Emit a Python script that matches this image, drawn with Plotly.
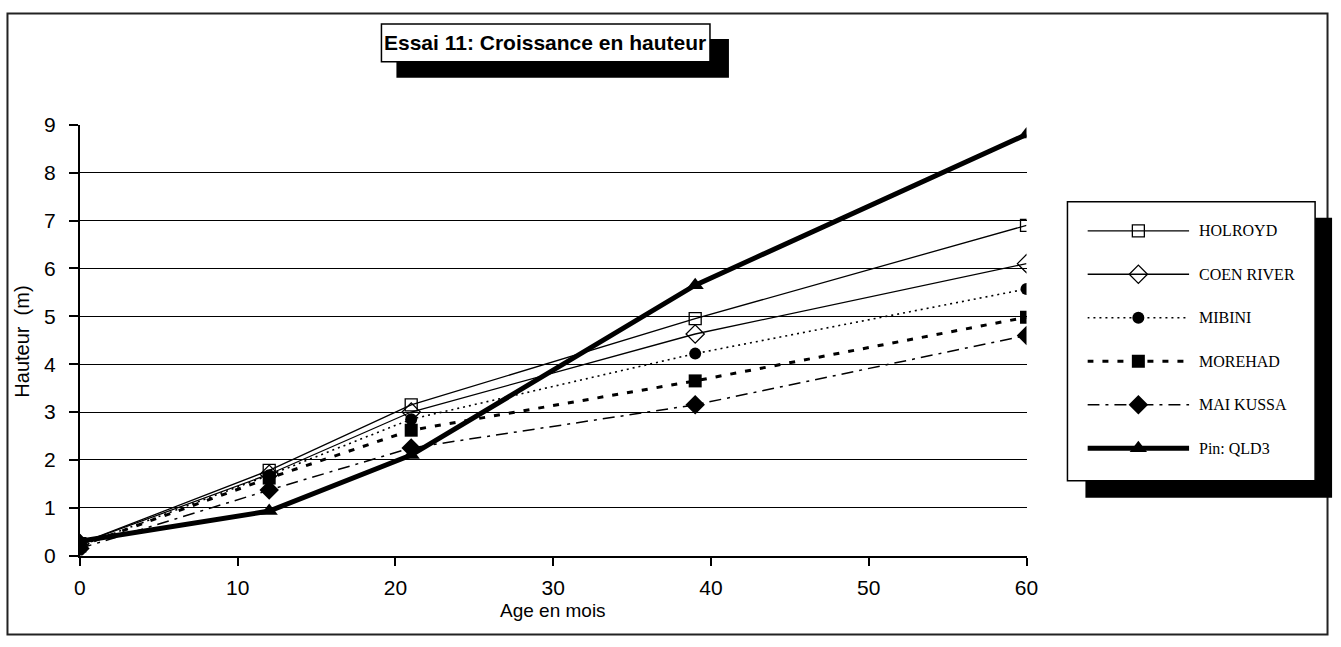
import plotly.graph_objects as go

# --- data -------------------------------------------------------------
months = [0, 12, 21, 39, 60]

holroyd = [0.25, 1.78, 3.15, 4.95, 6.9]
coen_river = [0.25, 1.7, 3.0, 4.63, 6.1]
mibini = [0.2, 1.68, 2.85, 4.22, 5.57]
morehad = [0.2, 1.62, 2.62, 3.65, 4.98]
mai_kussa = [0.15, 1.37, 2.25, 3.15, 4.6]
pin_qld3 = [0.3, 0.93, 2.1, 5.65, 8.8]

series_names = ["HOLROYD", "COEN RIVER", "MIBINI", "MOREHAD", "MAI KUSSA", "Pin: QLD3"]
series_values = [holroyd, coen_river, mibini, morehad, mai_kussa, pin_qld3]

x_ticks = [0, 10, 20, 30, 40, 50, 60]
y_ticks = [0, 1, 2, 3, 4, 5, 6, 7, 8, 9]

# --- styling per series ----------------------------------------------
styles = [
    dict(line=dict(color="black", width=1.3, dash="solid"),
         marker=dict(symbol="square-open", size=12, color="black", line=dict(width=1.3))),
    dict(line=dict(color="black", width=1.3, dash="solid"),
         marker=dict(symbol="diamond-open", size=14, color="black", line=dict(width=1.3))),
    dict(line=dict(color="black", width=1.6, dash="2px,4px"),
         marker=dict(symbol="circle", size=12, color="black")),
    dict(line=dict(color="black", width=3, dash="6px,9px"),
         marker=dict(symbol="square", size=13, color="black")),
    dict(line=dict(color="black", width=1.5, dash="12px,6px,3px,6px"),
         marker=dict(symbol="diamond", size=15, color="black")),
    dict(line=dict(color="black", width=5, dash="solid"),
         marker=dict(symbol="triangle-up", size=15, color="black")),
]

# --- page geometry -----------------------------------------------------
W, H = 1341, 647
# layout positions below are written in displayed pixels; these constants
# map them to figure pixels (horizontal / vertical scale and offset)
SX, OX = 0.988, 7.1
SY, OY = 0.965, 11.5


def px(s):
    return (s / SX - OX) / W


def py(s):
    return 1 - (s / SY - OY) / H


# plot area (displayed pixels)
X0, X1 = 81, 1029
Y_TOP, Y_BOT = 124, 555

fig = go.Figure()

for name, vals, st in zip(series_names, series_values, styles):
    fig.add_trace(go.Scatter(
        x=months, y=vals, name=name, mode="lines+markers",
        line=st["line"], marker=st["marker"], showlegend=False,
        xaxis="x", yaxis="y",
    ))

# legend samples drawn on their own small axes
LEG_X0, LEG_X1 = 1090, 1192
LEG_ROW0, LEG_STEP = 230, 43.5
v_top = (Y_TOP - LEG_ROW0) / LEG_STEP
v_bot = (Y_BOT - LEG_ROW0) / LEG_STEP

annotations = []
for i, (name, st) in enumerate(zip(series_names, styles)):
    fig.add_trace(go.Scatter(
        x=[0, 0.5, 1], y=[i, i, i], mode="lines+markers",
        line=st["line"], marker=dict(st["marker"], opacity=[0, 1, 0]),
        showlegend=False, hoverinfo="skip", xaxis="x3", yaxis="y3",
    ))
    annotations.append(dict(
        x=px(1200), y=py(LEG_ROW0 + LEG_STEP * i), xref="paper", yref="paper",
        text=name, showarrow=False, xanchor="left", yanchor="middle",
        font=dict(family="Liberation Serif", size=16, color="black"),
    ))

# title and axis titles
annotations.append(dict(
    x=px(547), y=py(42), xref="paper", yref="paper",
    text="<b>Essai 11: Croissance en hauteur</b>", showarrow=False,
    xanchor="center", yanchor="middle",
    font=dict(family="Liberation Sans", size=21, color="black"),
))
annotations.append(dict(
    x=px(555), y=py(610), xref="paper", yref="paper",
    text="Age en mois", showarrow=False, xanchor="center", yanchor="middle",
    font=dict(family="Liberation Sans", size=19, color="black"),
))
annotations.append(dict(
    x=px(23), y=py(341), xref="paper", yref="paper",
    text="Hauteur  (m)", showarrow=False, textangle=-90,
    xanchor="center", yanchor="middle",
    font=dict(family="Liberation Sans", size=20, color="black"),
))


def rect(x0, y0, x1, y1, fill, line_w=0, line_c="black"):
    return dict(type="rect", xref="paper", yref="paper",
                x0=px(x0), x1=px(x1), y0=py(y1), y1=py(y0),
                fillcolor=fill, line=dict(width=line_w, color=line_c),
                layer="below")


shapes = [
    # outer frame along the figure edge
    dict(type="rect", xref="paper", yref="paper",
         x0=1.5 / W, x1=1 - 1.5 / W, y0=1.5 / H, y1=1 - 1.5 / H,
         fillcolor="rgba(0,0,0,0)", line=dict(width=2, color="#222"),
         layer="below"),
    # title box with shadow
    rect(398, 38, 731, 77, "black"),
    rect(383, 23, 712, 61, "white", 1.5),
    # legend box with shadow
    rect(1088, 217, 1335, 497, "black"),
    rect(1070, 201, 1318, 480, "white", 1.5),
]

tick_font = dict(family="Liberation Sans", size=21, color="black")

fig.update_layout(
    width=W, height=H,
    margin=dict(l=0, r=0, t=0, b=0),
    paper_bgcolor="white",
    plot_bgcolor="rgba(0,0,0,0)",
    showlegend=False,
    shapes=shapes,
    annotations=annotations,
    xaxis=dict(
        domain=[px(X0), px(X1)], range=[0, 60], anchor="y",
        tickvals=x_ticks, ticks="outside", ticklen=8, tickwidth=1.5,
        tickcolor="black", tickfont=tick_font, ticklabelstandoff=4,
        showline=True, linecolor="black", linewidth=2,
        showgrid=False, zeroline=False, fixedrange=True,
    ),
    xaxis2=dict(
        domain=[px(X0), px(X1)], range=[0, 60], anchor="y", overlaying="x",
        tickvals=x_ticks, ticks="inside", ticklen=8, tickwidth=1.5,
        tickcolor="black", showticklabels=False, showline=False,
        showgrid=False, zeroline=False, side="bottom",
    ),
    yaxis=dict(
        domain=[py(Y_BOT), py(Y_TOP)], range=[0, 9], anchor="x",
        tickvals=y_ticks, ticks="outside", ticklen=9, tickwidth=1.5,
        tickcolor="black", tickfont=tick_font, ticklabelstandoff=9,
        showline=True, linecolor="black", linewidth=2,
        showgrid=True, gridcolor="black", gridwidth=1.2,
        zeroline=False, fixedrange=True,
    ),
    xaxis3=dict(
        domain=[px(LEG_X0), px(LEG_X1)], range=[0, 1], anchor="y3",
        visible=False, fixedrange=True,
    ),
    yaxis3=dict(
        domain=[py(Y_BOT), py(Y_TOP)], range=[v_bot, v_top], anchor="x3",
        visible=False, fixedrange=True,
    ),
)

fig.write_html("out.html")
